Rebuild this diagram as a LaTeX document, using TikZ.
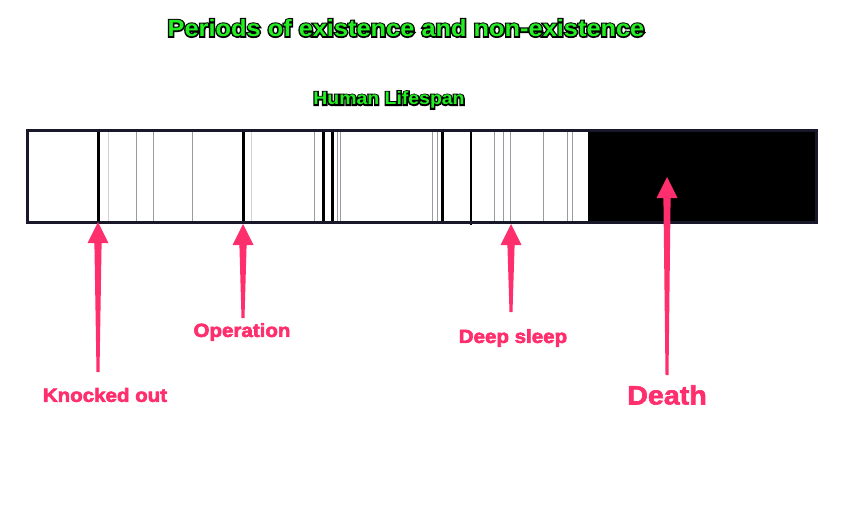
\documentclass[tikz,border=0pt]{standalone}
\usepackage{fontspec}
\usepackage{xcolor}
\usepackage{tikz}
\usetikzlibrary{calc,positioning}
\newfontfamily\labelfont[FakeStretch=1.08]{Liberation Sans}
\definecolor{lifegreen}{HTML}{22EE22}
\definecolor{markpink}{HTML}{FF2E6C}
\definecolor{barframe}{HTML}{18182A}
\definecolor{gapgray}{HTML}{9A9AA2}
% green text with a black rim: stroked black copy below, green on top
\newcommand{\outlined}[1]{%
  \makebox[0pt][l]{\color{black}\special{pdf:code 2 Tr 2.8 w}#1\special{pdf:code 0 Tr}}#1}
% pink text, a bit heavier
\newcommand{\heavy}[1]{\special{pdf:code 2 Tr 0.6 w}#1}
% tapered arrow from tail #1 up to tip #2
\newcommand{\taperarrow}[2]{%
  \fill[markpink] ($(#1)+(-1.5,0)$) -- ($(#2)+(-3.6,-21)$) -- ($(#2)+(-10.5,-21)$)
    -- (#2) -- ($(#2)+(10.5,-21)$) -- ($(#2)+(3.6,-21)$) -- ($(#1)+(1.5,0)$) -- cycle;}
\tikzset{
  heading/.style={text=lifegreen, font=\labelfont\bfseries\fontsize{23.5}{26}\selectfont, inner sep=1pt},
  subheading/.style={text=lifegreen, font=\labelfont\bfseries\fontsize{18}{21}\selectfont, inner sep=1pt},
  marklabel/.style={text=markpink, font=\labelfont\bfseries\fontsize{19}{22}\selectfont, inner sep=1pt},
  bigmark/.style={text=markpink, font=\labelfont\bfseries\fontsize{26.5}{30}\selectfont, inner sep=1pt},
  gapline/.style={draw=gapgray, line width=1pt},
  faintline/.style={draw=gapgray!45, line width=1pt},
  outline/.style={draw=black, line width=3pt},
  thinout/.style={draw=black, line width=1.8pt}
}
\begin{document}
\begin{tikzpicture}[x=1pt, y=1pt]
  \useasboundingbox (0,0) rectangle (848,-506);

  \node[heading] (title) at (406,-28) {\outlined{Periods of existence and non-existence}};
  \node[subheading] (life) at (389,-100) {\outlined{Human Lifespan}};

  % the lifespan bar
  \fill[white] (27,-130) rectangle (816,-222);
  \fill[black] (588,-130) rectangle (816,-222);
  \foreach \gx in {136,153,192,314,337,340,432,437,494,503,510,543,567,572}
    \draw[gapline] (\gx,-131) -- (\gx,-221);
  \foreach \gx in {108,251}
    \draw[faintline] (\gx,-131) -- (\gx,-221);
  \foreach \gx in {98,243,323,332,442}
    \draw[outline] (\gx,-130) -- (\gx,-222);
  \draw[thinout] (471,-130) -- (471,-225);
  \draw[barframe, line width=3pt] (27,-130) rectangle (816,-222);

  % labels
  \node[marklabel] (knock) at (105,-395) {\heavy{Knocked out}};
  \node[marklabel] (oper) at (242,-332) {\heavy{Operation}};
  \node[marklabel] (sleep) at (513,-338) {\heavy{Deep sleep}};
  \node[bigmark] (death) at (667,-395) {\heavy{Death}};

  \coordinate (koTip) at (98,-222);
  \coordinate (koTail) at (98,-372);
  \coordinate (opTip) at (243,-224);
  \coordinate (opTail) at (243,-318);
  \coordinate (dsTip) at (511,-224);
  \coordinate (dsTail) at (511,-312);
  \coordinate (dtTip) at (667,-177);
  \coordinate (dtTail) at (667,-375);

  \taperarrow{koTail}{koTip}
  \taperarrow{opTail}{opTip}
  \taperarrow{dsTail}{dsTip}
  \taperarrow{dtTail}{dtTip}
\end{tikzpicture}
\end{document}
